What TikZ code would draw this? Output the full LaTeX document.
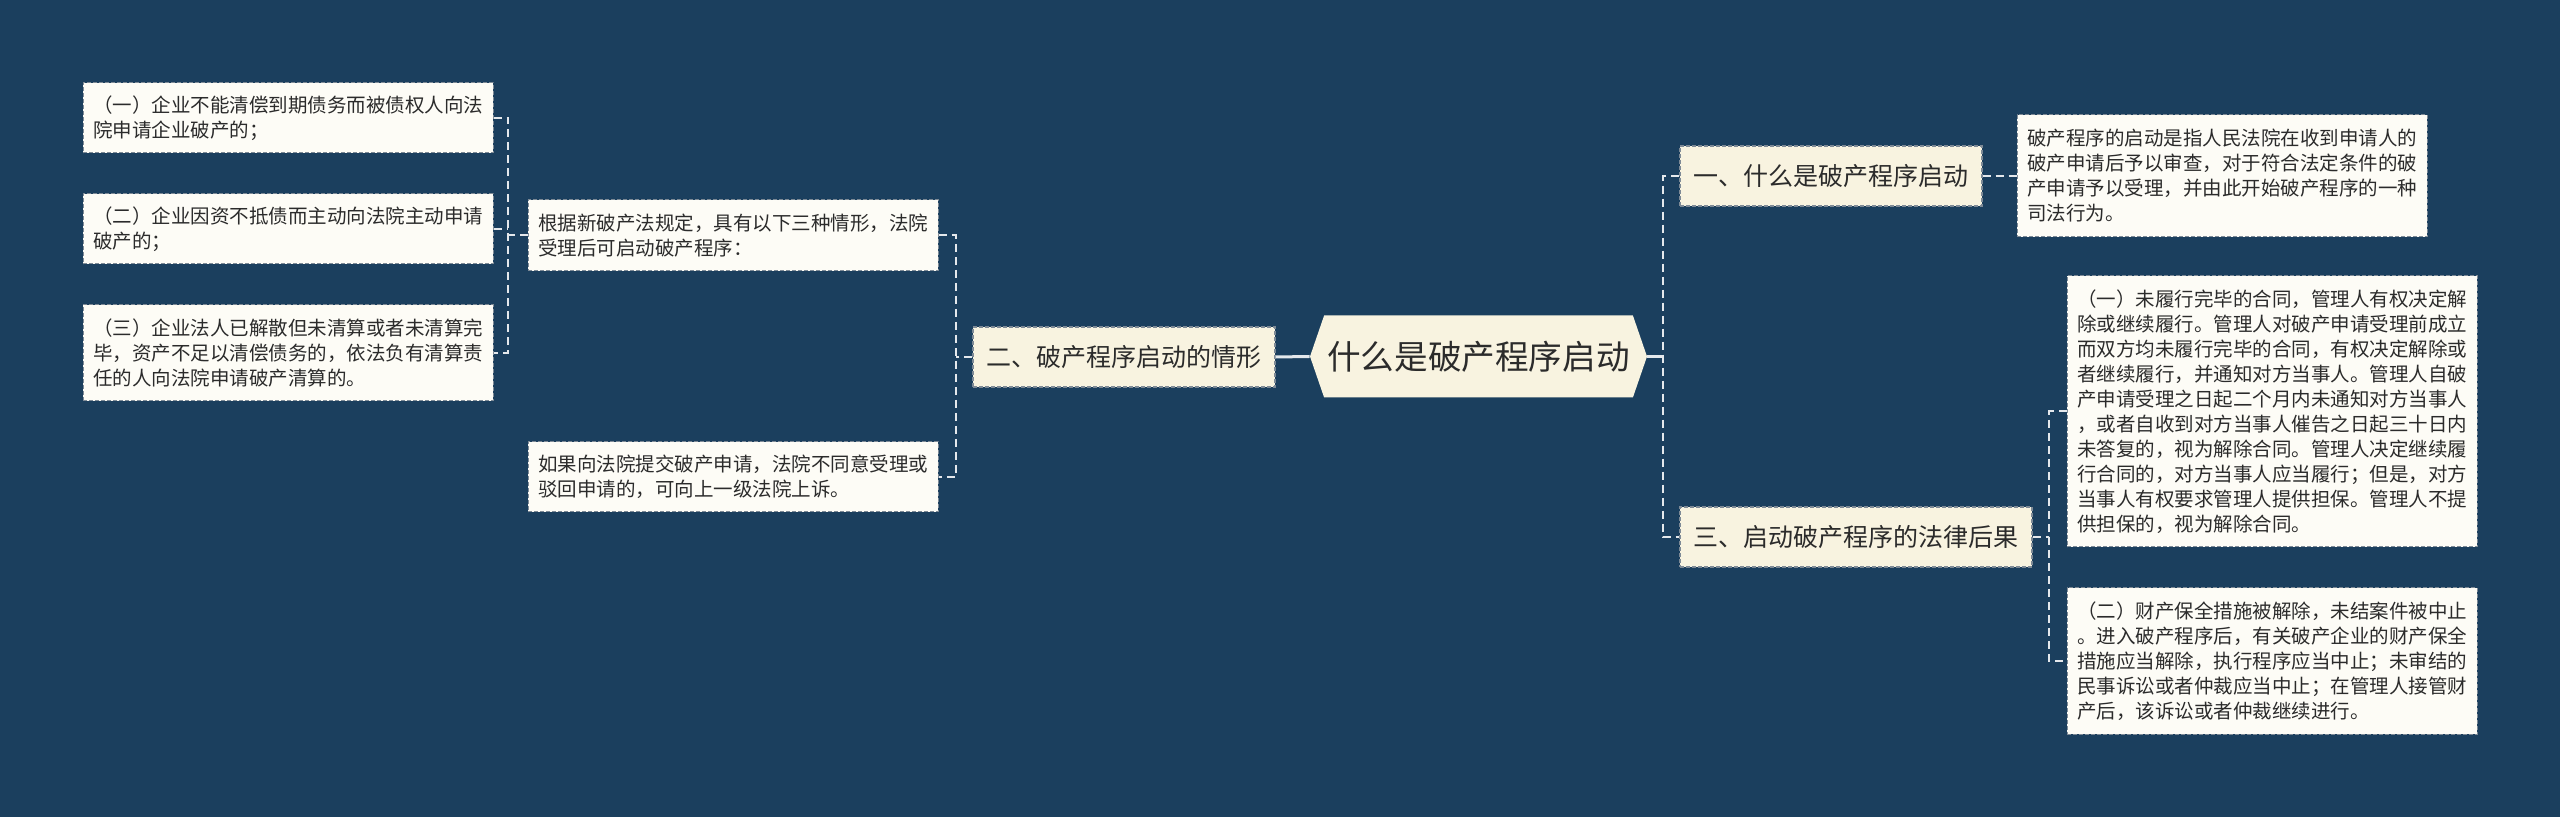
\documentclass[tikz,border=0pt]{standalone}
\usepackage{fontspec}
\setmainfont{Noto Sans CJK SC}
\usetikzlibrary{shapes.symbols}
\definecolor{cBg}{HTML}{1B3F5E}
\definecolor{cTopic}{HTML}{F8F3E0}
\definecolor{cLeaf}{HTML}{FDFCF6}
\definecolor{cRim}{HTML}{7E8A96}
\definecolor{cLine}{HTML}{E4E8EC}
\definecolor{cInk}{HTML}{2B2B2B}
\tikzset{
  hub/.style={shape=signal, signal to=east and west, signal pointer angle=142, fill=cTopic, text=cInk, font=\fontsize{16.8pt}{20pt}\selectfont, minimum width=168.5pt, minimum height=41pt, inner sep=0pt},
  topic/.style={draw=cRim, line width=0.6pt, dash pattern=on 2pt off 1pt, fill=cTopic, text=cInk, font=\fontsize{12.5pt}{15pt}\selectfont, minimum width=#1, minimum height=30pt, inner sep=0pt},
  leafbox/.style={draw=cRim, line width=0.5pt, dash pattern=on 2pt off 1pt, fill=cLeaf, text=cInk, font=\fontsize{9.75pt}{12.5pt}\selectfont, align=left, minimum width=205pt, minimum height=#1, inner sep=0pt},
  lnk/.style={cLine, line width=1.5pt},
  dlnk/.style={cLine, line width=1pt, dash pattern=on 4pt off 2.5pt},
}

\begin{document}
\begin{tikzpicture}[x=0.5pt,y=-0.5pt]
\fill[cBg] (0,0) rectangle (2560,817);
\useasboundingbox (0,0) rectangle (2560,817);
% ================= centre =================
\node[hub] (hub) at (1478.5,356.5) {什么是破产程序启动};
% ================= left branch =================
\node[topic=151pt] (sit) at (1124,357) {二、破产程序启动的情形};
\node[leafbox=35.5pt] (rule) at (733,235.5) {根据新破产法规定，具有以下三种情形，法院\\受理后可启动破产程序：};
\node[leafbox=35pt] (appeal) at (733,477) {如果向法院提交破产申请，法院不同意受理或\\驳回申请的，可向上一级法院上诉。};
\node[leafbox=35pt] (case1) at (288,118) {（一）企业不能清偿到期债务而被债权人向法\\院申请企业破产的；};
\node[leafbox=35pt] (case2) at (288,229) {（二）企业因资不抵债而主动向法院主动申请\\破产的；};
\node[leafbox=48pt] (case3) at (288,353) {（三）企业法人已解散但未清算或者未清算完\\毕，资产不足以清偿债务的，依法负有清算责\\任的人向法院申请破产清算的。};
\coordinate (jl1) at (956,357); \coordinate (jl2) at (508,235.5);
\draw[lnk] (hub.west) -- (sit.east);
\draw[dlnk] (sit.west) -- (jl1);
\draw[dlnk] (rule.east) -| (jl1) |- (appeal.east);
\draw[dlnk] (rule.west) -- (jl2);
\draw[dlnk] (case1.east) -| (jl2) |- (case3.east);
\draw[dlnk] (case2.east) -- (case2.east -| jl2);
% ================= right branch =================
\node[topic=151pt] (what) at (1831,176) {一、什么是破产程序启动};
\node[leafbox=61pt] (def) at (2222,176) {破产程序的启动是指人民法院在收到申请人的\\破产申请后予以审查，对于符合法定条件的破\\产申请予以受理，并由此开始破产程序的一种\\司法行为。};
\node[topic=176pt] (effect) at (1856,537) {三、启动破产程序的法律后果};
\node[leafbox=135.5pt] (eff1) at (2272,411.5) {（一）未履行完毕的合同，管理人有权决定解\\除或继续履行。管理人对破产申请受理前成立\\而双方均未履行完毕的合同，有权决定解除或\\者继续履行，并通知对方当事人。管理人自破\\产申请受理之日起二个月内未通知对方当事人\\，或者自收到对方当事人催告之日起三十日内\\未答复的，视为解除合同。管理人决定继续履\\行合同的，对方当事人应当履行；但是，对方\\当事人有权要求管理人提供担保。管理人不提\\供担保的，视为解除合同。};
\node[leafbox=73pt] (eff2) at (2272,661) {（二）财产保全措施被解除，未结案件被中止\\。进入破产程序后，有关破产企业的财产保全\\措施应当解除，执行程序应当中止；未审结的\\民事诉讼或者仲裁应当中止；在管理人接管财\\产后，该诉讼或者仲裁继续进行。};
\coordinate (jr) at (1663,356.5); \coordinate (jr3) at (2049,537);
\draw[lnk] (hub.east) -- (jr);
\draw[dlnk] (what.west) -| (jr) |- (effect.west);
\draw[dlnk] (what.east) -- (def.west);
\draw[dlnk] (effect.east) -- (jr3);
\draw[dlnk] (eff1.west) -| (jr3) |- (eff2.west);
\end{tikzpicture}
\end{document}
